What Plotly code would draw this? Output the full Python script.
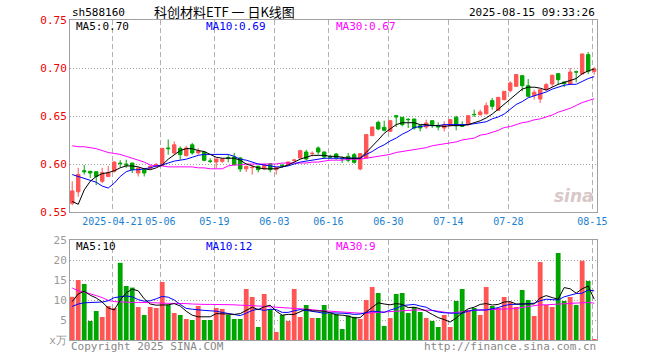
import plotly.graph_objects as go

# ---------------- data ----------------
dates = ["04-10","04-11","04-14","04-15","04-16","04-17","04-18","04-21","04-22","04-23","04-24","04-25",
         "04-28","04-29","04-30","05-06","05-07","05-08","05-09","05-12","05-13","05-14","05-15","05-16",
         "05-19","05-20","05-21","05-22","05-23","05-26","05-27","05-28","05-29","05-30","06-03","06-04",
         "06-05","06-06","06-09","06-10","06-11","06-12","06-13","06-16","06-17","06-18","06-19","06-20",
         "06-23","06-24","06-25","06-26","06-27","06-30","07-01","07-02","07-03","07-04","07-07","07-08",
         "07-09","07-10","07-11","07-14","07-15","07-16","07-17","07-18","07-21","07-22","07-23","07-24",
         "07-25","07-28","07-29","07-30","07-31","08-01","08-04","08-05","08-06","08-07","08-08","08-11",
         "08-12","08-13","08-14","08-15"]

open_ = [0.559,0.571,0.593,0.5924,0.592,0.582,0.587,0.5924,0.601,0.600,0.601,0.5906,
         0.594,0.5955,0.5975,0.5985,0.6167,0.6115,0.6163,0.6087,0.620,0.6115,0.6125,0.6031,
         0.602,0.6028,0.6066,0.6073,0.6063,0.595,0.5962,0.5976,0.5948,0.6003,0.5941,0.5986,
         0.5993,0.6038,0.6063,0.6125,0.6108,0.6167,0.6125,0.6075,0.6104,0.6057,0.6080,0.6097,
         0.5948,0.6063,0.6295,0.6434,0.6382,0.634,0.6503,0.6486,0.6465,0.6469,0.6399,0.6385,
         0.6451,0.6399,0.6375,0.6399,0.6486,0.6410,0.6410,0.6517,0.6514,0.6524,0.666,0.6559,
         0.667,0.6764,0.6809,0.692,0.6816,0.6712,0.6677,0.6774,0.6833,0.6941,0.6854,0.6833,
         0.6960,0.6938,0.7139,0.6965]
high = [0.582,0.596,0.599,0.593,0.592,0.596,0.598,0.603,0.604,0.6045,0.601,0.5965,
        0.595,0.5985,0.601,0.6167,0.6255,0.6236,0.6184,0.619,0.622,0.6167,0.6132,0.606,
        0.6055,0.606,0.6097,0.6115,0.607,0.598,0.5993,0.5983,0.600,0.6003,0.5968,0.6003,
        0.6024,0.6052,0.6149,0.6149,0.6132,0.6184,0.6132,0.6097,0.6115,0.6080,0.6115,0.6115,
        0.6115,0.631,0.639,0.6451,0.6451,0.6458,0.6506,0.649,0.6479,0.647,0.640,0.6462,
        0.6455,0.6434,0.6444,0.6469,0.6503,0.6444,0.6506,0.6566,0.6566,0.6642,0.6688,0.670,
        0.676,0.6861,0.6935,0.6925,0.6885,0.6774,0.6778,0.6844,0.6931,0.6945,0.6858,0.700,
        0.6972,0.715,0.7167,0.701]
low = [0.557,0.566,0.589,0.5854,0.578,0.580,0.5865,0.591,0.596,0.596,0.5906,0.587,
       0.587,0.5945,0.597,0.598,0.6097,0.610,0.6045,0.608,0.6097,0.6097,0.6028,0.601,
       0.5958,0.601,0.6017,0.5983,0.5917,0.5917,0.5889,0.5913,0.5941,0.5913,0.5889,0.5958,
       0.5986,0.6017,0.6052,0.6038,0.6080,0.6097,0.6052,0.6052,0.6045,0.6010,0.6017,0.6003,
       0.5934,0.606,0.629,0.6351,0.634,0.6335,0.6385,0.6392,0.6375,0.6358,0.634,0.6365,
       0.6375,0.6351,0.634,0.6392,0.6351,0.6385,0.640,0.6490,0.6503,0.6514,0.6566,0.6555,
       0.6665,0.6747,0.6802,0.6757,0.6698,0.667,0.6635,0.6767,0.6802,0.6826,0.6802,0.6826,
       0.6851,0.6935,0.6938,0.6931]
close = [0.572,0.589,0.592,0.5906,0.587,0.591,0.591,0.602,0.6005,0.599,0.594,0.5958,
         0.5906,0.5976,0.5993,0.6163,0.616,0.620,0.6097,0.6167,0.6115,0.6135,0.6038,0.6028,
         0.6052,0.6052,0.6063,0.5993,0.5948,0.5976,0.5965,0.5941,0.5993,0.5941,0.5965,0.5983,
         0.6021,0.6041,0.6139,0.6052,0.6111,0.6125,0.6073,0.6073,0.6063,0.6055,0.6038,0.6017,
         0.6108,0.6306,0.6385,0.6365,0.6351,0.6451,0.6490,0.641,0.6462,0.6375,0.6375,0.6427,
         0.641,0.6385,0.641,0.6462,0.6399,0.6392,0.6503,0.6514,0.6542,0.6608,0.6601,0.6694,
         0.6757,0.6844,0.6931,0.6816,0.6705,0.6747,0.6774,0.6826,0.6924,0.6878,0.6837,0.6958,
         0.6958,0.7146,0.6965,0.699]

ma5 = [0.561,0.558,0.573,0.582,0.587,0.590,0.591,0.593,0.596,0.598,0.598,0.597,0.595,0.594,0.596,
       0.599,0.605,0.610,0.614,0.616,0.616,0.614,0.613,0.610,0.607,0.606,0.606,0.606,0.604,0.600,
       0.598,0.596,0.595,0.595,0.595,0.597,0.599,0.602,0.605,0.607,0.609,0.609,0.609,0.608,0.608,
       0.607,0.606,0.606,0.606,0.612,0.618,0.625,0.632,0.637,0.641,0.643,0.643,0.643,0.641,0.641,
       0.640,0.640,0.639,0.640,0.640,0.640,0.641,0.643,0.645,0.648,0.652,0.657,0.662,0.667,0.673,
       0.678,0.680,0.680,0.679,0.677,0.680,0.683,0.685,0.687,0.689,0.694,0.697,0.699]
ma10 = [0.589,0.587,0.585,0.583,0.581,0.577,0.575,0.580,0.587,0.592,0.594,0.594,0.595,0.596,0.598,
        0.599,0.601,0.603,0.604,0.605,0.607,0.609,0.610,0.610,0.610,0.610,0.610,0.608,0.605,0.604,
        0.602,0.600,0.599,0.598,0.597,0.597,0.598,0.600,0.602,0.603,0.604,0.605,0.606,0.606,0.606,
        0.606,0.606,0.606,0.606,0.610,0.613,0.617,0.620,0.624,0.627,0.631,0.634,0.638,0.639,0.640,
        0.640,0.640,0.641,0.641,0.641,0.641,0.641,0.642,0.643,0.644,0.647,0.649,0.652,0.657,0.662,
        0.665,0.669,0.671,0.673,0.675,0.678,0.680,0.682,0.683,0.683,0.686,0.689,0.691]
ma30 = [0.619,0.618,0.618,0.617,0.616,0.614,0.612,0.611,0.610,0.608,0.606,0.604,0.602,0.599,0.598,
        0.598,0.597,0.597,0.597,0.597,0.597,0.596,0.596,0.595,0.595,0.595,0.598,0.599,0.599,0.600,
        0.600,0.600,0.600,0.600,0.600,0.601,0.601,0.601,0.601,0.601,0.602,0.602,0.603,0.604,0.604,
        0.604,0.605,0.605,0.605,0.606,0.607,0.608,0.609,0.610,0.612,0.613,0.614,0.615,0.616,0.617,
        0.619,0.620,0.621,0.622,0.623,0.625,0.626,0.627,0.630,0.631,0.633,0.635,0.638,0.639,0.641,
        0.643,0.644,0.646,0.647,0.649,0.651,0.654,0.656,0.658,0.661,0.664,0.666,0.668]

volume = [10.8,15.0,14.0,4.75,7.25,5.75,8.5,8.0,19.3,13.5,13.1,8.25,6.25,8.25,8.0,14.5,8.75,6.75,
          6.25,5.25,5.0,8.5,5.0,5.0,8.0,7.75,6.25,5.25,5.25,12.75,10.75,3.25,11.5,7.7,2.0,6.25,
          4.75,12.75,5.75,8.75,5.5,5.5,8.75,6.6,6.4,2.75,6.1,5.8,5.25,10.0,13.25,11.75,3.5,5.5,
          11.5,11.75,6.75,8.25,7.0,5.5,4.75,3.25,6.25,3.25,9.75,12.75,7.5,8.0,6.25,13.25,8.5,8.0,
          10.75,9.5,8.25,12.5,10.0,6.0,19.5,8.75,8.25,21.75,9.75,10.75,8.75,19.8,14.75,0.25]
vma5 = [9.6,11.5,12.2,11.2,10.5,9.5,8.0,7.5,10.0,11.8,12.7,12.3,10.3,9.0,8.7,8.7,8.8,9.1,8.5,7.2,
        6.2,5.8,5.8,5.8,6.6,6.5,6.4,6.4,6.6,7.5,8.2,7.6,8.3,8.7,7.2,6.2,6.4,6.4,7.0,7.7,7.3,7.2,
        7.2,6.8,6.3,6.2,6.0,5.5,5.6,7.0,8.2,9.3,9.0,8.8,9.1,8.9,8.1,8.2,7.8,7.25,6.4,5.6,5.1,4.5,
        5.5,6.8,7.8,8.2,8.9,9.1,8.75,8.9,9.5,9.6,9.0,9.0,9.0,9.0,10.5,11.1,10.6,10.2,13.1,12.8,
        11.7,12.8,13.5,10.2]
vma10 = [8.4,9.0,9.3,9.4,9.4,9.5,9.8,10.6,10.8,11.0,10.8,10.1,9.7,9.8,10.3,10.9,10.7,10.0,8.9,7.9,
         7.7,7.5,7.4,7.3,7.2,6.9,6.6,6.3,6.1,6.7,7.4,7.7,7.4,7.7,7.6,6.9,6.9,7.3,7.6,7.4,7.2,7.0,
         6.7,6.8,6.8,6.7,6.6,6.4,6.5,6.8,7.2,7.1,6.9,7.5,7.9,8.6,8.8,8.9,8.5,8.2,7.4,7.0,6.8,6.7,
         6.7,6.7,7.2,7.5,7.5,7.5,7.8,8.1,8.6,8.9,8.9,9.0,9.2,9.2,9.8,10.2,10.1,10.0,10.8,11.2,11.6,
         11.7,12.5,12.3]
vma30 = [13.0,12.3,12.0,11.6,11.1,10.6,9.9,9.6,9.5,9.4,9.4,9.4,9.4,9.3,9.3,9.2,9.2,9.2,9.1,9.1,
         9.0,8.9,8.9,8.9,8.9,8.9,8.8,8.8,8.7,8.7,8.6,8.5,8.4,8.3,8.3,8.2,8.1,8.0,7.9,7.8,7.6,7.4,
         7.3,7.1,7.0,6.9,6.8,6.7,6.7,6.7,6.8,6.9,7.1,7.2,7.3,7.4,7.4,7.5,7.5,7.5,7.4,7.2,6.9,6.7,
         6.9,7.1,7.3,7.4,7.5,7.5,7.6,7.7,7.7,7.8,7.9,8.1,8.4,8.6,8.8,8.8,8.9,8.9,9.0,9.1,9.2,9.3,
         9.4,9.2]

tick_dates = ["2025-04-21", "05-06", "05-19", "06-03", "06-16", "06-30", "07-14", "07-28", "08-15"]
tick_keys = ["04-21", "05-06", "05-19", "06-03", "06-16", "06-30", "07-14", "07-28", "08-15"]
price_ticks = [0.55, 0.60, 0.65, 0.70, 0.75]
price_tick_text = ["0.55", "0.60", "0.65", "0.70", "0.75"]
vol_ticks = [0, 5, 10, 15, 20, 25]
vol_tick_text = ["x万", "5", "10", "15", "20", "25"]

# ---------------- figure ----------------
n = len(dates)
xi = list(range(n))
tickpos = [dates.index(k) - 0.3 for k in tick_keys]

RED = "#ff5555"
GREEN = "#00a600"
MONO = "DejaVu Sans Mono"

fig = go.Figure()
fig.add_trace(go.Candlestick(
    x=xi, open=open_, high=high, low=low, close=close,
    increasing=dict(line=dict(color=RED, width=1), fillcolor=RED),
    decreasing=dict(line=dict(color=GREEN, width=1), fillcolor=GREEN),
    whiskerwidth=0, xaxis="x", yaxis="y", hoverinfo="skip"))
for arr, col in [(ma30, "#ff00ff"), (ma10, "#0000ff"), (ma5, "#000000")]:
    fig.add_trace(go.Scatter(x=xi, y=arr, mode="lines", line=dict(color=col, width=1),
                             xaxis="x", yaxis="y", hoverinfo="skip"))

vcolors = [RED if c >= o else GREEN for o, c in zip(open_, close)]
fig.add_trace(go.Bar(x=xi, y=volume, marker=dict(color=vcolors, line=dict(width=0)),
                     width=0.8, xaxis="x2", yaxis="y2", hoverinfo="skip"))
for arr, col in [(vma30, "#ff00ff"), (vma10, "#0000ff"), (vma5, "#000000")]:
    fig.add_trace(go.Scatter(x=xi, y=arr, mode="lines", line=dict(color=col, width=1),
                             xaxis="x2", yaxis="y2", hoverinfo="skip"))

L, R, T, B = 70, 597, 20, 340
def xp(px):
    return (px - L) / (R - L)
def yp(py):
    return (B - py) / (B - T)

xr = [-0.37, 87.47]
axis_common = dict(showline=True, mirror=True, linecolor="#a0a0a0", linewidth=1, zeroline=False,
                   showgrid=True, automargin=False)
fig.update_layout(
    width=660, height=360, margin=dict(l=L, r=660 - R, t=T, b=360 - B, autoexpand=False),
    paper_bgcolor="white", plot_bgcolor="white", showlegend=False, boxgap=0.18,
    font=dict(family=MONO, size=10, color="#000"),
    xaxis=dict(domain=[0, 1], range=xr, anchor="y", tickmode="array", tickvals=tickpos,
               ticktext=tick_dates, ticks="", tickangle=0,
               tickfont=dict(color="#1a7fd0", size=10, family=MONO),
               gridcolor="#b0b0b0", griddash="5px,3px", rangeslider=dict(visible=False),
               **axis_common),
    yaxis=dict(domain=[yp(212), 1], range=[0.55, 0.75], anchor="x", tickmode="array",
               tickvals=price_ticks, ticktext=price_tick_text, ticks="",
               tickfont=dict(color="#ee0000", size=11, family=MONO),
               gridcolor="#a0a0a0", griddash="1px,2px", **axis_common),
    xaxis2=dict(domain=[0, 1], range=xr, anchor="y2", tickmode="array", tickvals=tickpos,
                showticklabels=False, ticks="", gridcolor="#b0b0b0", griddash="5px,3px",
                **axis_common),
    yaxis2=dict(domain=[0, yp(240)], range=[0, 25], anchor="x2", tickmode="array",
                tickvals=vol_ticks, ticktext=vol_tick_text, ticks="",
                tickfont=dict(color="#999999", size=11, family=MONO),
                gridcolor="#a0a0a0", griddash="1px,2px", **axis_common),
)

def note(text, px, py, color="#000", anchor="left", size=11, family=MONO, **kw):
    fig.add_annotation(text=text, x=xp(px), y=yp(py), xref="paper", yref="paper",
                       xanchor=anchor, yanchor="middle", showarrow=False,
                       font=dict(color=color, size=size, family=family), **kw)

note("sh588160", 70, 13)
note("科创材料ETF 一 日K线图", 224, 11, anchor="center", size=13, family="Noto Sans CJK SC")
note("2025-08-15 09:33:26", 597, 13, anchor="right")
note("MA5:0.70", 74, 27)
note("MA10:0.69", 204, 27, color="#0000ff")
note("MA30:0.67", 334, 27, color="#ff00ff")
note("MA5:10", 74, 246)
note("MA10:12", 204, 246, color="#0000ff")
note("MA30:9", 334, 246, color="#ff00ff")
note("Copyright 2025 SINA.COM", 69, 346, color="#888888")
note("http://finance.sina.com.cn", 598, 346, color="#888888", anchor="right")
note("<b><i>sina</i></b>", 596, 196, color="#d8c8c8", anchor="right", size=17, family="DejaVu Sans")

fig.write_html("out.html", config={"displayModeBar": False},
               post_script="document.body.style.margin='0';document.body.style.overflow='hidden';")
